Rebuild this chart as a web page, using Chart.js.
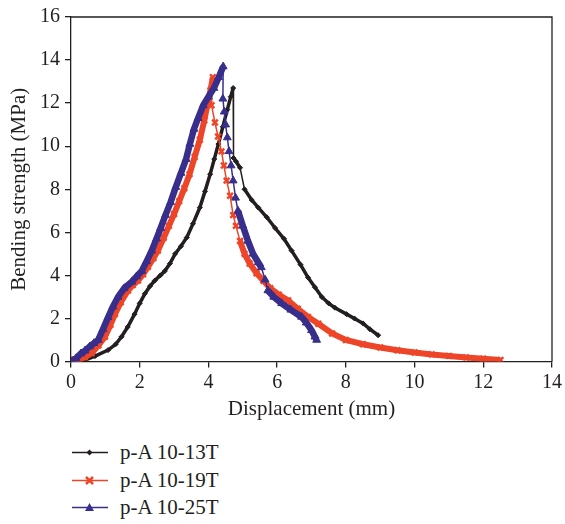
<!DOCTYPE html>
<html>
<head>
<meta charset="utf-8">
<script src="https://cdn.jsdelivr.net/npm/chart.js@4.4.1/dist/chart.umd.min.js"></script>
<style>
  body { margin: 0; background: #fff; }
  #wrap { position: relative; width: 565px; height: 524px; }
  #legend { position: absolute; left: 72px; top: 439px; font-family: "Liberation Serif", serif; font-size: 21px; color: #231f20; }
  .item { height: 27.5px; display: flex; align-items: center; }
  .item svg { margin-right: 12px; }
</style>
</head>
<body>
<div id="wrap">
  <canvas id="chart" width="565" height="425"></canvas>
  <div id="legend"></div>
</div>
<script>
// displacement (mm) / bending strength (MPa)
const x13 = [0, 0.2, 0.41, 0.7, 1.08, 1.3, 1.47, 1.65, 1.85, 2.0, 2.15, 2.3, 2.44, 2.6, 2.73, 2.88, 3.03, 3.2, 3.37, 3.55, 3.75, 3.9, 4.05, 4.17, 4.29, 4.42, 4.55, 4.65, 4.72, 4.73, 4.8, 4.92, 5.05, 5.26, 5.45, 5.7, 5.94, 6.2, 6.42, 6.68, 6.9, 7.1, 7.3, 7.5, 7.68, 8.02, 8.25, 8.5, 8.7, 8.94];
const y13 = [0, 0.02, 0.07, 0.25, 0.53, 0.8, 1.15, 1.6, 2.2, 2.7, 3.15, 3.5, 3.76, 4.0, 4.2, 4.55, 5.0, 5.35, 5.76, 6.4, 7.15, 7.9, 8.7, 9.4, 10.1, 10.9, 11.7, 12.3, 12.7, 9.45, 9.3, 9.0, 8.0, 7.5, 7.15, 6.7, 6.2, 5.7, 5.15, 4.5, 3.9, 3.45, 3.0, 2.7, 2.5, 2.2, 2.0, 1.77, 1.5, 1.22];

const x19 = [0, 0.2, 0.4, 0.6, 0.8, 0.99, 1.15, 1.28, 1.45, 1.66, 1.8, 1.95, 2.1, 2.24, 2.4, 2.53, 2.7, 2.85, 3.0, 3.15, 3.3, 3.45, 3.6, 3.75, 3.88, 3.98, 4.06, 4.13, 4.09, 4.19, 4.28, 4.38, 4.45, 4.53, 4.63, 4.72, 4.8, 4.92, 5.05, 5.2, 5.4, 5.6, 5.8, 6.05, 6.32, 6.6, 6.9, 7.2, 7.6, 8.0, 8.5, 9.0, 9.5, 10.0, 10.5, 11.0, 11.5, 12.0, 12.5];
const y19 = [0.1, 0.07, 0.2, 0.39, 0.75, 1.15, 1.7, 2.2, 2.75, 3.3, 3.55, 3.76, 4.05, 4.4, 4.8, 5.15, 5.75, 6.3, 6.85, 7.45, 8.05, 8.7, 9.5, 10.3, 11.2, 12.0, 12.6, 13.2, 11.9, 11.1, 10.45, 9.76, 9.1, 8.4, 7.7, 6.8, 6.3, 5.6, 5.0, 4.55, 4.1, 3.75, 3.4, 3.1, 2.84, 2.45, 2.07, 1.75, 1.3, 1.0, 0.8, 0.65, 0.52, 0.42, 0.33, 0.26, 0.19, 0.13, 0.07];

const x25 = [0, 0.15, 0.29, 0.41, 0.55, 0.67, 0.79, 0.93, 1.08, 1.22, 1.37, 1.55, 1.77, 1.91, 2.06, 2.2, 2.35, 2.49, 2.61, 2.75, 2.9, 3.05, 3.2, 3.35, 3.46, 3.58, 3.7, 3.85, 4.0, 4.16, 4.3, 4.43, 4.42, 4.46, 4.5, 4.55, 4.6, 4.66, 4.72, 4.79, 4.86, 5.0, 5.15, 5.3, 5.45, 5.54, 5.65, 5.73, 5.9, 6.13, 6.4, 6.71, 6.85, 7.0, 7.1, 7.15];
const y25 = [0, 0.15, 0.37, 0.5, 0.7, 0.85, 1.0, 1.5, 2.05, 2.55, 3.0, 3.4, 3.7, 3.95, 4.2, 4.65, 5.15, 5.7, 6.2, 6.8, 7.4, 8.1, 8.75, 9.4, 10.1, 10.8, 11.3, 11.9, 12.3, 12.7, 13.2, 13.7, 12.2, 11.6, 11.0, 10.4, 9.76, 9.1, 8.4, 7.6, 7.0, 6.3, 5.6, 5.0, 4.6, 4.37, 3.8, 3.3, 3.0, 2.7, 2.4, 2.07, 1.8, 1.45, 1.15, 1.0];

const xTicks = [0, 2, 4, 6, 8, 10, 12, 14];
const yTicks = [0, 2, 4, 6, 8, 10, 12, 14, 16];
const names = ['p-A 10-13T', 'p-A 10-19T', 'p-A 10-25T'];

const ink = '#231f20';
const black = '#231f20';
const red = '#ee4528';
const blue = '#382e8c';

function pts(xs, ys) {
    return xs.map((x, i) => ({ x: x, y: ys[i] }));
}

// the original markers are packed so tight they merge into a band;
// thick line everywhere except the steep post-peak drops
function bandWidth(thick, thin) {
    return ctx => {
        const dx = Math.abs(ctx.p1.x - ctx.p0.x);
        const down = ctx.p1.y - ctx.p0.y;
        return down > 3.2 * dx ? thin : thick;
    };
}

const boxPlugin = {
    id: 'box',
    afterDraw(chart) {
        const a = chart.chartArea;
        const c = chart.ctx;
        c.save();
        c.strokeStyle = ink;
        c.lineWidth = 1.3;
        c.beginPath();
        c.moveTo(a.left, a.top);
        c.lineTo(a.right, a.top);
        c.lineTo(a.right, a.bottom);
        c.stroke();
        c.restore();
    }
};

const font = { family: '"Liberation Serif", serif', size: 20 };
const titleFont = { family: '"Liberation Serif", serif', size: 21 };

const ctx = document.getElementById('chart').getContext('2d');
const myChart = new Chart(ctx, {
    type: 'scatter',
    data: {
        datasets: [{
            label: names[0],
            data: pts(x13, y13),
            showLine: true,
            borderColor: black,
            backgroundColor: black,
            borderWidth: 3,
            segment: { borderWidth: bandWidth(3.5, 1.5) },
            pointStyle: 'rectRot',
            pointRadius: 2.5,
            pointBorderWidth: 1,
            order: 3
        }, {
            label: names[1],
            data: pts(x19, y19),
            showLine: true,
            borderColor: red,
            backgroundColor: red,
            borderWidth: 5,
            segment: { borderWidth: bandWidth(6, 1.5) },
            pointStyle: 'crossRot',
            pointRadius: 4,
            pointBorderWidth: 2.5,
            order: 2
        }, {
            label: names[2],
            data: pts(x25, y25),
            showLine: true,
            borderColor: blue,
            backgroundColor: blue,
            borderWidth: 5,
            segment: { borderWidth: bandWidth(6.5, 1.5) },
            pointStyle: 'triangle',
            pointRadius: 4.5,
            pointBorderWidth: 1,
            order: 1
        }]
    },
    options: {
        responsive: false,
        animation: false,
        layout: { padding: { left: 0, right: 13, top: 15, bottom: 0 } },
        plugins: {
            legend: { display: false },
            tooltip: { enabled: false }
        },
        scales: {
            x: {
                type: 'linear',
                min: 0,
                max: 14,
                afterFit(scale) { scale.height = 63.5; },
                afterBuildTicks(scale) { scale.ticks = xTicks.map(v => ({ value: v })); },
                border: { display: true, color: ink, width: 1.3 },
                grid: { drawOnChartArea: false, drawTicks: true, tickLength: 6, color: ink, lineWidth: 1.3 },
                ticks: { color: ink, font: font, padding: 3, maxRotation: 0 },
                title: { display: true, text: 'Displacement (mm)', color: ink, font: titleFont, padding: 3 }
            },
            y: {
                type: 'linear',
                min: 0,
                max: 16,
                afterFit(scale) { scale.width = 71; },
                afterBuildTicks(scale) { scale.ticks = yTicks.map(v => ({ value: v })); },
                border: { display: true, color: ink, width: 1.3 },
                grid: { drawOnChartArea: false, drawTicks: true, tickLength: 6, color: ink, lineWidth: 1.3 },
                ticks: { color: ink, font: font, padding: 5 },
                title: { display: true, text: 'Bending strength (MPa)', color: ink, font: titleFont, padding: 7 }
            }
        }
    },
    plugins: [boxPlugin]
});

// legend: line with marker, like the original figure
const marks = [
    '<polygon points="17.5,2.5 20.5,5.5 17.5,8.5 14.5,5.5" fill="' + black + '"/>',
    '<path d="M14,2 L21,9 M21,2 L14,9" stroke="' + red + '" stroke-width="2.5"/>',
    '<polygon points="17.5,1 22,9 13,9" fill="' + blue + '"/>'
];
const cols = [black, red, blue];
const legend = document.getElementById('legend');
names.forEach((n, i) => {
    const row = document.createElement('div');
    row.className = 'item';
    row.innerHTML = '<svg width="36" height="11"><line x1="0" y1="5.5" x2="36" y2="5.5" stroke="' + cols[i] + '" stroke-width="1.6"/>' + marks[i] + '</svg><span>' + n + '</span>';
    legend.appendChild(row);
});
</script>
</body>
</html>
